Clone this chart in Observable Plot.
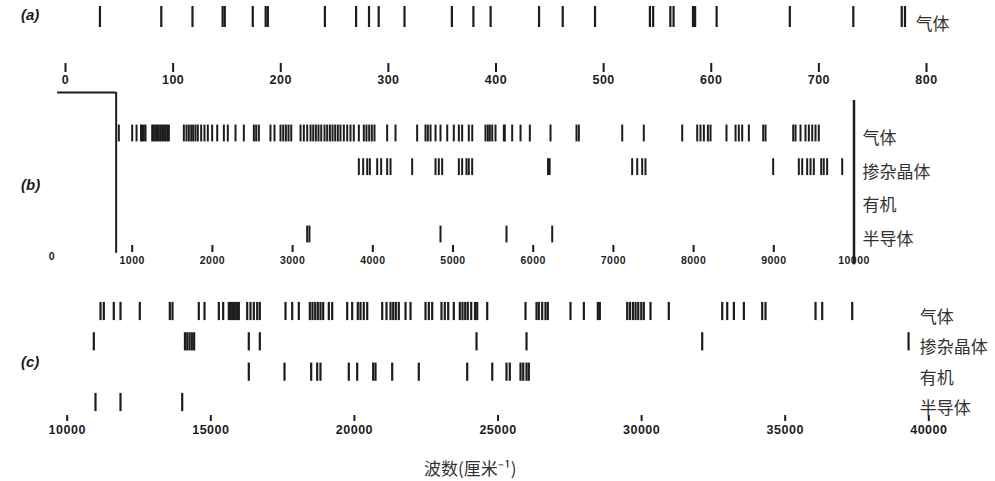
<!DOCTYPE html>
<html><head><meta charset="utf-8">
<script src="https://cdn.jsdelivr.net/npm/d3@7"></script>
<script src="https://cdn.jsdelivr.net/npm/@observablehq/plot@0.6"></script>
<style>
body{margin:0;background:#fff;}
#wrap{position:relative;width:995px;height:481px;overflow:hidden;background:#fff;}
.panel{position:absolute;left:0;}
.plab{position:absolute;left:21px;font:italic bold 15px "Liberation Sans",sans-serif;color:#1c1c1c;}
#title{position:absolute;top:455px;left:424px;font:17px "Noto Sans CJK SC",sans-serif;color:#333;}
g[aria-label="x-axis tick label"]{letter-spacing:0.5px;}
</style></head><body>
<div id="wrap">
  <div class="plab" style="top:6px">(a)</div>
  <div class="plab" style="top:176px">(b)</div>
  <div class="plab" style="top:353px">(c)</div>
  <div id="title">波数(厘米⁻¹)</div>
</div>
<script>
// ---- categories ----
const rowsA = ["气体"];
const rows = ["气体", "掺杂晶体", "有机", "半导体"];

// ---- panel (a): 0–800 cm-1, gas lasers ----
const aRange = [0, 800];
const aTicks = [0, 100, 200, 300, 400, 500, 600, 700, 800];
const gasA = [32, 89, 118, 146, 148, 174, 186, 188, 241, 270, 282, 291, 315, 359, 379, 395,
  440, 462, 492, 543, 546, 562, 565, 583, 585, 605, 673, 732, 777, 780];

// ---- panel (b): 0–10000 cm-1 ----
const bRange = [0, 10000];
const bTicks = [1000, 2000, 3000, 4000, 5000, 6000, 7000, 8000, 9000, 10000];
const gasB = [833, 1000, 1054, 1110, 1124, 1145, 1166, 1249, 1270, 1290, 1310, 1332, 1353, 1374,
  1395, 1415, 1436, 1457, 1644, 1677, 1706, 1736, 1760, 1789, 1818, 1860, 1901, 1943, 1997, 2060,
  2143, 2192, 2288, 2392, 2517, 2546, 2579, 2724, 2774, 2849, 2883, 2916, 2949, 2983, 3099, 3140,
  3182, 3224, 3257, 3290, 3323, 3357, 3398, 3431, 3465, 3498, 3531, 3564, 3597, 3639, 3681, 3722,
  3763, 3826, 3888, 3921, 3955, 3988, 4021, 4179, 4283, 4553, 4657, 4686, 4720, 4782, 4844, 4928,
  5010, 5073, 5114, 5197, 5240, 5405, 5434, 5459, 5489, 5530, 5634, 5646, 5738, 5842, 5958, 6216,
  6540, 6569, 7110, 7379, 7858, 8045, 8086, 8128, 8178, 8211, 8410, 8523, 8564, 8606, 8689, 8868,
  8897, 9242, 9271, 9333, 9395, 9437, 9479, 9520, 9561];
const dopedB = [3826, 3880, 3930, 3963, 4055, 4104, 4179, 4221, 4491, 4782, 4823, 4865, 5073, 5114,
  5168, 5197, 5239, 6185, 6205, 7234, 7297, 7359, 7400, 8992, 9312, 9354, 9416, 9458, 9499, 9591,
  9623, 9665, 9853];
const organicB = [];
const semiB = [3182, 3210, 4844, 5667, 6237];

// ---- panel (c): 10000–40000 cm-1 ----
const cRange = [10000, 40000];
const cTicks = [10000, 15000, 20000, 25000, 30000, 35000, 40000];
const gasC = [11160, 11275, 11622, 11856, 12528, 13573, 13666, 14582, 14781, 15279, 15431, 15627,
  15680, 15745, 15800, 15861, 15920, 15976, 16267, 16382, 16498, 16616, 16707, 17601, 17834, 18065,
  18448, 18541, 18635, 18726, 18820, 18914, 19109, 19227, 19749, 19923, 20118, 20212, 20327, 20446,
  20968, 21118, 21257, 21351, 21442, 21546, 21780, 21954, 22476, 22591, 22709, 23032, 23147, 23266,
  23461, 23670, 23764, 23858, 23948, 24067, 24200, 24276, 24624, 25958, 26341, 26421, 26538, 26654,
  26734, 27524, 27989, 28476, 28546, 29499, 29592, 29697, 29790, 29883, 29988, 30077, 30310, 30947,
  32807, 32981, 33213, 33561, 34199, 34315, 36056, 36288, 37333];
const dopedC = [10927, 14100, 14180, 14260, 14340, 14420, 16323, 16707, 24252, 25993, 32110, 39295];
const organicC = [16323, 17566, 18495, 18704, 18819, 19805, 20097, 20654, 20735, 21316, 22242,
  23928, 24800, 25296, 25411, 25784, 25878, 25993, 26073];
const semiC = [10985, 11856, 14004];

// ---- helpers ----
const ink = "#1c1c1c";
const numFont = "Liberation Sans, Arial, sans-serif";
const cjkFont = "Noto Sans CJK SC, sans-serif";
const plain = d => String(d);
const toRows = (lists) => lists.flatMap((vals, row) => vals.map(v => ({v, row})));
const wrap = document.getElementById("wrap");
function place(svg, top) {
  svg.classList.add("panel");
  svg.style.top = top + "px";
  wrap.appendChild(svg);
}

// panel (a)
place(Plot.plot({
  width: 995, height: 92, marginLeft: 65, marginRight: 69, marginTop: 0, marginBottom: 29,
  style: {background: "transparent", overflow: "visible", color: ink},
  x: {domain: aRange, label: null},
  y: {domain: [0, 1], range: [16.5, 37.5], label: null},
  marks: [
    Plot.ruleX(toRows([gasA]), {x: "v", y1: d => d.row - 0.5, y2: d => d.row + 0.5, stroke: ink, strokeWidth: 2.2}),
    Plot.axisX(aTicks, {label: null, tickFormat: plain, tickSize: 9, tickPadding: 3, fontSize: 12.5, fontWeight: "bold", fontFamily: numFont, strokeWidth: 2, stroke: ink, fill: ink}),
    Plot.axisY([0], {label: null, anchor: "right", tickSize: 0, tickPadding: -11, dy: 7.5, tickFormat: i => rowsA[i], fontSize: 17, fontFamily: cjkFont, fill: "#333"})
  ]
}), 0);

// panel (b)
const bracketTop = -1.22;
place(Plot.plot({
  width: 995, height: 185, marginLeft: 51.5, marginRight: 141.5, marginTop: 0, marginBottom: 28,
  style: {background: "transparent", overflow: "visible", color: ink},
  x: {domain: bRange, label: null},
  y: {domain: [0, 3], range: [45, 146], label: null},
  marks: [
    Plot.ruleX(toRows([gasB, dopedB, organicB, semiB]), {x: "v", y1: d => d.row - 0.25, y2: d => d.row + 0.25, stroke: ink, strokeWidth: 2}),
    Plot.ruleX([aRange[1]], {y1: () => bracketTop, y2: () => 3.56, stroke: ink, strokeWidth: 2}),
    Plot.ruleY([bracketTop], {x1: () => aRange[0] + 70, x2: () => aRange[1], stroke: ink, strokeWidth: 2}),
    Plot.ruleX([bRange[1]], {y1: () => -0.98, y2: () => 3.9, stroke: ink, strokeWidth: 2.5}),
    Plot.axisX(bTicks, {label: null, tickFormat: plain, tickSize: 7, tickPadding: 4, fontSize: 10.5, fontWeight: "bold", fontFamily: numFont, strokeWidth: 2, stroke: ink, fill: ink}),
    Plot.axisX([bRange[0]], {label: null, tickFormat: plain, tickSize: 0, tickPadding: 7, fontSize: 10.5, fontWeight: "bold", fontFamily: numFont, fill: ink}),
    Plot.axisY([0, 1, 2, 3], {label: null, anchor: "right", tickSize: 0, tickPadding: 8.5, dy: 5, tickFormat: i => rows[i], fontSize: 17, fontFamily: cjkFont, fill: "#333"})
  ]
}), 88);

// panel (c)
place(Plot.plot({
  width: 995, height: 160, marginLeft: 66.7, marginRight: 66.7, marginTop: 0, marginBottom: 30,
  style: {background: "transparent", overflow: "visible", color: ink},
  x: {domain: cRange, label: null},
  y: {domain: [0, 3], range: [26, 117], label: null},
  marks: [
    Plot.ruleX(toRows([gasC, dopedC, organicC, semiC]), {x: "v", y1: d => d.row - 0.3, y2: d => d.row + 0.3, stroke: ink, strokeWidth: 2.2}),
    Plot.axisX(cTicks, {label: null, tickFormat: plain, tickSize: 6, tickPadding: 4, fontSize: 12.5, fontWeight: "bold", fontFamily: numFont, strokeWidth: 2, stroke: ink, fill: ink}),
    Plot.axisY([0, 1, 2, 3], {label: null, anchor: "right", tickSize: 0, tickPadding: -9, dy: 6, tickFormat: i => rows[i], fontSize: 17, fontFamily: cjkFont, fill: "#333"})
  ]
}), 285);
</script>
</body></html>
